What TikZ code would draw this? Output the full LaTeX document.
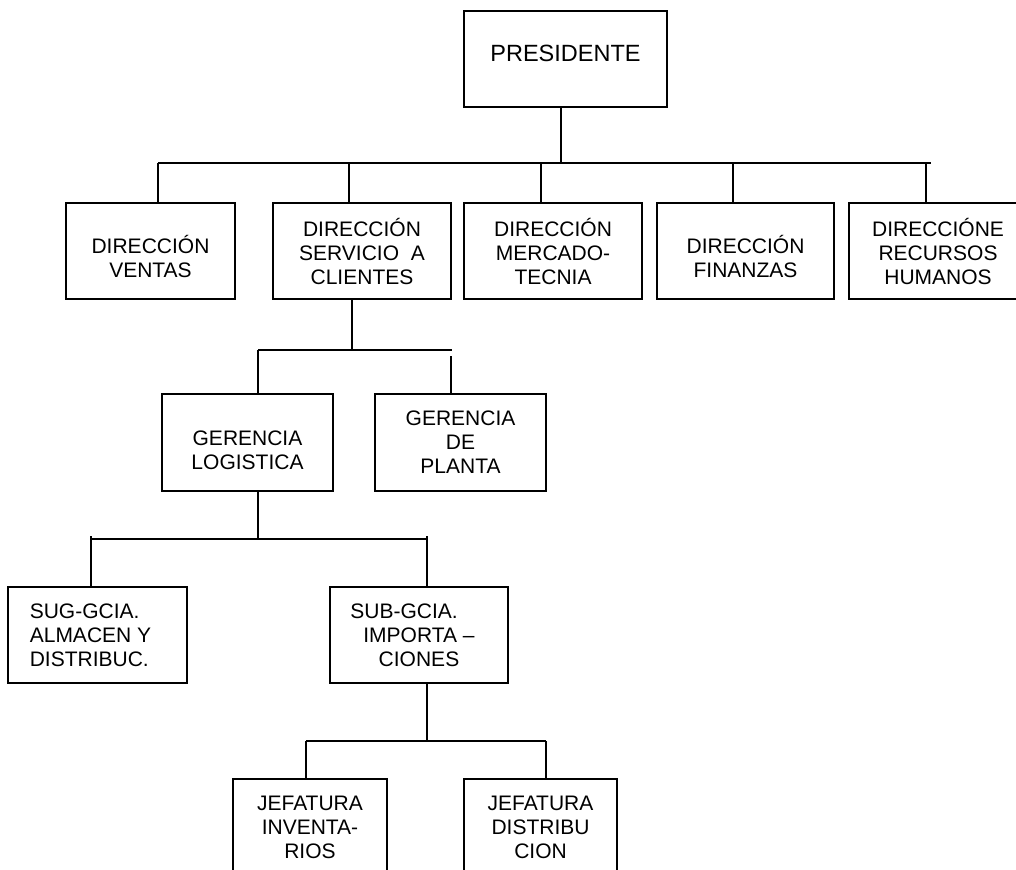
\documentclass[tikz,border=0pt]{standalone}
\usepackage{fontspec}
\setmainfont{Liberation Sans}
\begin{document}
\begin{tikzpicture}[x=1pt,y=-1pt,
  orgbox/.style={draw, line width=1.8pt, rectangle, inner sep=0pt, align=center,
    minimum height=96pt, font=\fontsize{21}{24}\selectfont},
  link/.style={line width=1.8pt},
]
\useasboundingbox (0,0) rectangle (1016,869);
\clip (0,0) rectangle (1016,869);

% top
\node[orgbox, minimum width=203pt, font=\fontsize{23.5}{27}\selectfont, text depth=11pt]
  (pres) at (565.5,59) {PRESIDENTE};

% directions
\node[orgbox, minimum width=169pt] (ventas) at (150.5,251) {\rule{0pt}{30pt}DIRECCIÓN\\VENTAS};
\node[orgbox, minimum width=178pt] (servicio) at (362,251) {DIRECCIÓN\\SERVICIO\ \ A\\CLIENTES};
\node[orgbox, minimum width=178pt] (mercado) at (553,251) {DIRECCIÓN\\MERCADO-\\TECNIA};
\node[orgbox, minimum width=177pt] (finanzas) at (745.5,251) {\rule{0pt}{30pt}DIRECCIÓN\\FINANZAS};
\node[orgbox, minimum width=178pt] (recursos) at (938,251) {DIRECCIÓNE\\RECURSOS\\HUMANOS};

% managements
\node[orgbox, minimum width=171pt, minimum height=97pt] (logistica) at (247.5,442.5) {\rule{0pt}{31pt}GERENCIA\\LOGISTICA};
\node[orgbox, minimum width=171pt, minimum height=97pt] (planta) at (460.5,442.5) {GERENCIA\\DE\\PLANTA};

% sub-managements
\node[orgbox, minimum width=179pt, align=left] (sug) at (97.5,635)
  {SUG-GCIA.\\ALMACEN Y\rule{14pt}{0pt}\\DISTRIBUC.};
\node[orgbox, minimum width=178pt] (sub) at (419,635)
  {SUB-GCIA.\rule{30pt}{0pt}\\IMPORTA –\\CIONES};

% heads
\node[orgbox, minimum width=154pt] (inventa) at (310,827) {JEFATURA\\INVENTA-\\RIOS};
\node[orgbox, minimum width=153pt] (distribu) at (540.5,827) {JEFATURA\\DISTRIBU\\CION};

% president to directions
\coordinate (j0) at (561,163);
\coordinate (busAL) at (158,163);
\coordinate (busAR) at (931,163);
\coordinate (d1) at (158,163);
\coordinate (d2) at (349,163);
\coordinate (d3) at (541,163);
\coordinate (d4) at (733,163);
\coordinate (d5) at (926,163);
\draw[link] (pres.south -| j0) -- (j0);
\draw[link] (busAL) -- (busAR);
\draw[link] (d1) -- (d1 |- ventas.north);
\draw[link] (d2) -- (d2 |- servicio.north);
\draw[link] (d3) -- (d3 |- mercado.north);
\draw[link] (d4) -- (d4 |- finanzas.north);
\draw[link] (d5) -- (d5 |- recursos.north);

% customer service to managements
\coordinate (s0) at (352,350);
\coordinate (busBL) at (258,350);
\coordinate (busBR) at (452,350);
\coordinate (e2) at (451,356);
\draw[link] (servicio.south -| s0) -- (s0);
\draw[link] (busBL) -- (busBR);
\draw[link] (busBL) -- (busBL |- logistica.north);
\draw[link] (e2) -- (e2 |- planta.north);

% logistics to sub-managements
\coordinate (l0) at (258,539);
\coordinate (busCL) at (91,539);
\coordinate (busCR) at (427,539);
\coordinate (f1) at (91,536);
\coordinate (f2) at (427,536);
\draw[link] (logistica.south -| l0) -- (l0);
\draw[link] (busCL) -- (busCR);
\draw[link] (f1) -- (f1 |- sug.north);
\draw[link] (f2) -- (f2 |- sub.north);

% imports to heads
\coordinate (u0) at (427,741);
\coordinate (busDL) at (306,741);
\coordinate (busDR) at (546,741);
\draw[link] (sub.south -| u0) -- (u0);
\draw[link] (busDL) -- (busDR);
\draw[link] (busDL) -- (busDL |- inventa.north);
\draw[link] (busDR) -- (busDR |- distribu.north);
\end{tikzpicture}
\end{document}
